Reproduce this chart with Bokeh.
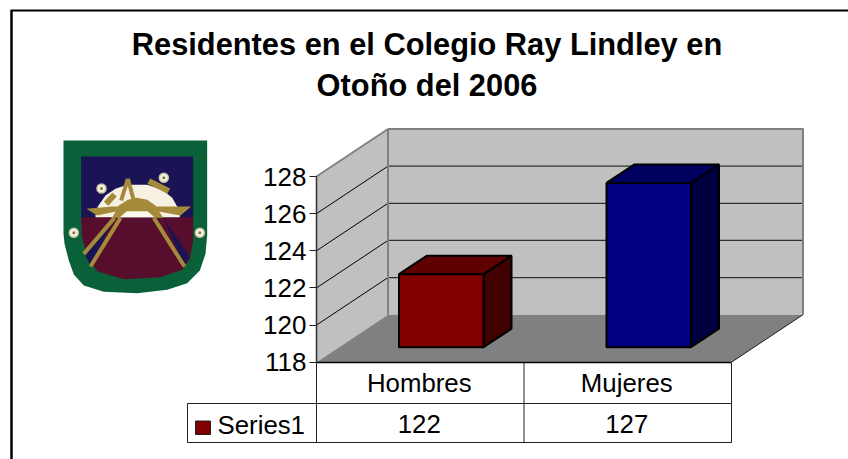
from bokeh.plotting import figure
from bokeh.models import LinearAxis, FixedTicker, Range1d
from bokeh.core.properties import value
from bokeh.embed import file_html
from bokeh.resources import INLINE

title_lines = ["Residentes en el Colegio Ray Lindley en", "Otoño del 2006"]
categories = ["Hombres", "Mujeres"]
series_name = "Series1"
series_values = [122, 127]
tick_values = [118, 120, 122, 124, 126, 128]
bar_front = ["#800000", "#000080"]
bar_top = ["#600000", "#000060"]
bar_side = ["#400000", "#000040"]

W, H = 848, 459
OX, OY = 0, 0
Y0_PX, PX_PER_UNIT = 361.7, 18.57
XL_PX, COL_PX = 316.0, 207.5

def X(px):
    return (px - XL_PX) / COL_PX

def Y(py):
    return 118 + (Y0_PX - py) / PX_PER_UNIT

def XS(seq):
    return [X(v) for v in seq]

def YS(seq):
    return [Y(v) for v in seq]

p = figure(width=W, height=H, output_backend="svg", toolbar_location=None,
           x_axis_type=None, y_axis_type=None,
           x_range=Range1d(X(OX), X(OX + W)), y_range=Range1d(Y(OY + H), Y(OY)),
           min_border=0, min_border_left=0, min_border_right=0, min_border_top=0, min_border_bottom=0)
p.outline_line_color = None
p.grid.visible = False
p.background_fill_color = "white"

FONT = value("Liberation Sans")

# Outer frame
p.line(XS([11, 11]), YS([459, 10]), line_color="black", line_width=2.5)
p.line(XS([10, 848]), YS([10, 10]), line_color="black", line_width=2)

# Title
for line, py in zip(title_lines, [44, 85]):
    p.text([X(426.5)], [Y(py)], text=[line], text_font=FONT, text_font_style="bold",
           text_font_size="30.8px", text_align="center", text_baseline="middle", text_color="black")

# 3-D box
DX, DY = 71.5, -47.5
FRONT_R = XL_PX + 2 * COL_PX
BACK_L, BACK_R = XL_PX + DX, FRONT_R + DX
F_BOT, F_TOP = Y0_PX, Y0_PX - 10 * PX_PER_UNIT
B_BOT, B_TOP = F_BOT + DY, F_TOP + DY

p.patch(XS([BACK_L, BACK_R, BACK_R, BACK_L]), YS([B_BOT, B_BOT, B_TOP, B_TOP]),
        fill_color="#c0c0c0", line_color=None)
p.patch(XS([XL_PX, BACK_L, BACK_L, XL_PX]), YS([F_BOT, B_BOT, B_TOP, F_TOP]),
        fill_color="#c0c0c0", line_color=None)
p.patch(XS([XL_PX, FRONT_R, BACK_R, BACK_L]), YS([F_BOT, F_BOT, B_BOT, B_BOT]),
        fill_color="#808080", line_color=None)

for t in tick_values[1:-1] + [128]:
    py = Y0_PX - (t - 118) * PX_PER_UNIT
    p.line(XS([XL_PX, BACK_L]), YS([py, py + DY]),
           line_color="#808080" if t == 128 else "black", line_width=2 if t == 128 else 1)
    if t != 128:
        p.line(XS([BACK_L, BACK_R]), YS([py + DY, py + DY]), line_color="#303030", line_width=1.2)

p.line(XS([BACK_L, BACK_L]), YS([B_BOT, B_TOP]), line_color="#808080", line_width=2)
p.line(XS([BACK_L, BACK_R, BACK_R]), YS([B_TOP, B_TOP, B_BOT]), line_color="#808080", line_width=2)
p.line(XS([FRONT_R, BACK_R]), YS([F_BOT, B_BOT]), line_color="#202020", line_width=1)

# Bars
BAR_W = 84.5 / COL_PX
BAR_SHIFT = 21 / COL_PX
BAR_BASE = 15.0 / PX_PER_UNIT
BAR_SCALE = 0.983
BDX, BDY = 28 / COL_PX, 18.5 / PX_PER_UNIT
for i, v in enumerate(series_values):
    xl = i + 0.5 + BAR_SHIFT - BAR_W / 2
    xr = xl + BAR_W
    yb = 118 + BAR_BASE
    yt = yb + (v - 118) * BAR_SCALE
    p.patch([xr, xr + BDX, xr + BDX, xr], [yb, yb + BDY, yt + BDY, yt],
            fill_color=bar_side[i], line_color="black", line_width=2)
    p.patch([xl, xl + BDX, xr + BDX, xr], [yt, yt + BDY, yt + BDY, yt],
            fill_color=bar_top[i], line_color="black", line_width=2)
    p.patch([xl, xr, xr, xl], [yb, yb, yt, yt],
            fill_color=bar_front[i], line_color="black", line_width=2)

# Value axis on the front-left edge of the box
axis = LinearAxis(ticker=FixedTicker(ticks=tick_values), fixed_location=0, bounds=(118, 128))
axis.axis_line_color = "#303030"
axis.axis_line_width = 1.5
axis.major_tick_line_color = "#202020"
axis.major_tick_in = 0
axis.major_tick_out = 7
axis.minor_tick_line_color = None
axis.major_label_text_font = "Liberation Sans"
axis.major_label_text_font_size = "26px"
axis.major_label_text_color = "black"
axis.major_label_standoff = 3
p.add_layout(axis, "left")

# Data table
T_TOP, T_MID, T_BOT = 362, 403, 442
T_LEFT = 187
line_c = "#202020"
p.line(XS([XL_PX, FRONT_R]), YS([T_TOP, T_TOP]), line_color="black", line_width=1.5)
p.line(XS([T_LEFT, FRONT_R]), YS([T_MID, T_MID]), line_color=line_c, line_width=1)
p.line(XS([T_LEFT, FRONT_R]), YS([T_BOT, T_BOT]), line_color=line_c, line_width=1)
p.line(XS([T_LEFT, T_LEFT]), YS([T_MID, T_BOT]), line_color=line_c, line_width=1)
for xv in [XL_PX, XL_PX + COL_PX, FRONT_R]:
    p.line(XS([xv, xv]), YS([T_TOP, T_BOT]), line_color=line_c, line_width=1)

TXT_SHIFT = -1 / COL_PX
for i, (c, v) in enumerate(zip(categories, series_values)):
    p.text([i + 0.5 + TXT_SHIFT], [Y(382.5)], text=[c], text_font=FONT, text_font_size="25.8px",
           text_align="center", text_baseline="middle", text_color="black")
    p.text([i + 0.5 + TXT_SHIFT], [Y(423)], text=[str(v)], text_font=FONT, text_font_size="25.8px",
           text_align="center", text_baseline="middle", text_color="black")
p.text([X(217)], [Y(424)], text=[series_name], text_font=FONT, text_font_size="25.8px",
       text_align="left", text_baseline="middle", text_color="black")
p.patch(XS([195, 210, 210, 195]), YS([420.5, 420.5, 434, 434]),
        fill_color=bar_front[0], line_color="#202020", line_width=1)

# Emblem (picture in the original), traced in zoomed-crop coordinates
def EX(seq):
    return [X(40 + v / 3) for v in seq]

def EY(seq):
    return [Y(120 + v / 3) for v in seq]

GREEN, NAVY, MAROON, GOLD, CREAM = "#0a6038", "#1a1456", "#560e2c", "#a58a3c", "#f6f1e2"

p.patch(EX([69, 500, 500, 495, 478, 440, 380, 290, 190, 130, 100, 85, 72, 69]),
        EY([60, 60, 345, 400, 450, 488, 508, 518, 514, 495, 462, 420, 370, 340]),
        fill_color=GREEN, line_color=None)
p.patch(EX([122, 458, 458, 122]), EY([108, 108, 300, 300]), fill_color=NAVY, line_color=None)
p.patch(EX([122, 458, 458, 448, 425, 360, 250, 170, 138, 124]),
        EY([290, 290, 360, 415, 448, 470, 476, 452, 405, 345]),
        fill_color=MAROON, line_color=None)
p.patch(EX([132, 218, 150]), EY([398, 295, 438]), fill_color=NAVY, line_color=None)
p.patch(EX([445, 370, 432]), EY([405, 295, 438]), fill_color=NAVY, line_color=None)
p.patch(EX([165, 172, 195, 225, 260, 320, 365, 395, 410, 418, 418, 165]),
        EY([285, 258, 225, 205, 193, 193, 208, 232, 258, 282, 290, 290]),
        fill_color=CREAM, line_color=None)
p.patch(EX([215, 235, 262, 290, 320, 345, 368, 342, 318, 290, 262, 238]),
        EY([292, 255, 238, 232, 238, 255, 292, 292, 270, 262, 270, 292]),
        fill_color=GOLD, line_color=None)
p.patch(EX([238, 262, 290, 318, 342]), EY([290, 270, 262, 270, 290]),
        fill_color="#fbf7ea", line_color=None)
p.patch(EX([138, 215, 365, 452, 420, 350, 230, 170]), EY([265, 258, 258, 258, 285, 272, 272, 285]),
        fill_color=GOLD, line_color=None)
p.multi_line([EX([130, 222]), EX([150, 240]), EX([340, 432]), EX([262, 242]), EX([262, 280])],
             [EY([400, 292]), EY([438, 292]), EY([292, 438]), EY([175, 240]), EY([175, 240])],
             line_color=GOLD, line_width=4)
p.multi_line([EX([197, 222]), EX([325, 385])], [EY([250, 222]), EY([182, 212])],
             line_color=GOLD, line_width=6)
p.scatter(EX([183, 370, 100, 478]), EY([204, 172, 337, 337]), size=9, fill_color=CREAM,
          line_color="#c8c8a0", line_width=1.5)
p.scatter(EX([183, 370, 100, 478]), EY([204, 172, 337, 337]), size=3, fill_color="#807a40", line_color=None)

open("out.html", "w").write(file_html(p, INLINE))
